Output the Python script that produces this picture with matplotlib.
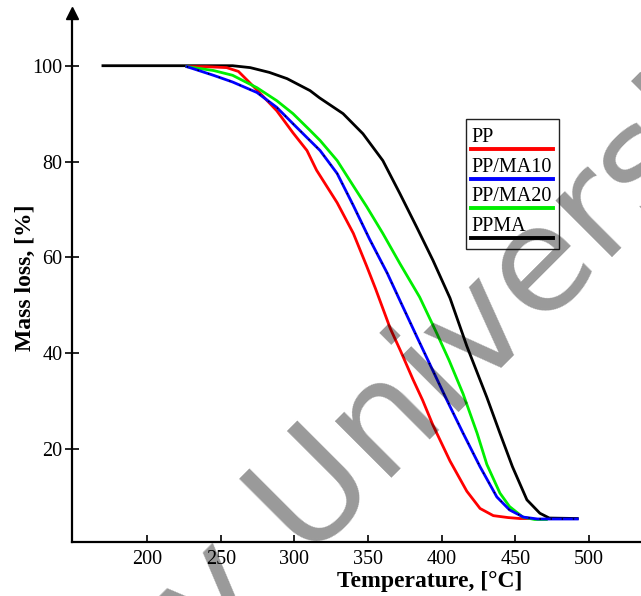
import numpy as np
import matplotlib.pyplot as plt
from matplotlib.patches import Rectangle
from matplotlib.lines import Line2D

# TGA curves
pp_t = [227, 240, 254, 262, 275, 288, 299, 308.5, 315, 322, 329, 340, 349, 355, 365, 372, 380.5, 387, 394, 405.6, 417, 426, 435, 445, 453, 460]
pp_m = [99.8, 99.8, 99.6, 98.8, 94.8, 90.6, 86.0, 82.3, 78.2, 74.8, 71.4, 65, 58.2, 53.5, 45.2, 40.5, 34.5, 30.2, 25.0, 17.5, 11.2, 7.6, 6.1, 5.7, 5.5, 5.5]

ma10_t = [227, 245, 258, 274.6, 288, 299, 308.5, 317.4, 329, 340, 351, 363, 371.6, 383, 393, 403.5, 414.5, 426, 437.4, 446, 455.4, 465, 492]
ma10_m = [99.8, 98.0, 96.6, 94.4, 91.3, 87.9, 85, 82.3, 77.5, 70.8, 63.8, 56.7, 51, 43.5, 37, 30.2, 23.3, 16.3, 10, 7.3, 5.8, 5.4, 5.4]

ma20_t = [227, 245, 258, 274.6, 288, 299, 310.6, 317.4, 329, 340, 349, 360, 371.6, 385, 396.7, 405, 414.5, 424, 430.6, 439.5, 446, 455, 463, 471]
ma20_m = [99.8, 99, 98, 95.4, 92.7, 90, 86.5, 84.4, 80.2, 74.9, 70.6, 65, 58.7, 51.7, 44.1, 38.5, 31.5, 23.3, 16.8, 10.8, 8, 5.8, 5.3, 5.3]

ppma_t = [170, 258, 270, 283, 295, 310.6, 317, 333, 346.5, 360, 371.6, 383, 394, 405.6, 417, 430.6, 439.5, 448, 457.8, 466.6, 473, 492]
ppma_m = [100, 100, 99.6, 98.6, 97.3, 94.8, 93.3, 90, 85.8, 80.2, 73.3, 66.3, 59.4, 51.5, 41.5, 30.8, 23.3, 16.3, 9.4, 6.6, 5.6, 5.5]

names = ['PP', 'PP/MA10', 'PP/MA20', 'PPMA']
colors = ['#ff0000', '#0000ff', '#00ee00', '#000000']
xticks = [200, 250, 300, 350, 400, 450, 500]
yticks = [20, 40, 60, 80, 100]

W, H = 641, 596
fig = plt.figure(figsize=(W / 100, H / 100), dpi=100)
# axes box in pixels: left 72, bottom 542, top 13, right runs off the figure
ax = fig.add_axes([72 / W, 1 - 542 / H, (648 - 72) / W, (542 - 13) / H])

serif = 'Liberation Serif'
ax.plot(ppma_t, ppma_m, color=colors[3], lw=2.0, zorder=2)
ax.plot(pp_t, pp_m, color=colors[0], lw=2.0, zorder=3)
ax.plot(ma20_t, ma20_m, color=colors[2], lw=2.0, zorder=3)
ax.plot(ma10_t, ma10_m, color=colors[1], lw=2.0, zorder=4)
ax.plot(ma10_t, ma10_m, color='black', lw=1.0, ls=(0, (1, 7)), zorder=5)

ax.set_xlim(149, 540)
ax.set_ylim(0.6, 111)
ax.spines['top'].set_visible(False)
ax.spines['right'].set_visible(False)
ax.spines['left'].set_linewidth(1.6)
ax.spines['bottom'].set_linewidth(1.6)
ax.set_xticks(xticks)
ax.set_yticks(yticks)
ax.tick_params(axis='x', direction='in', length=5, width=1.2, labelsize=14.5, pad=6)
ax.tick_params(axis='y', direction='inout', length=10, width=1.2, labelsize=14.5, pad=2)
for lab in ax.get_xticklabels() + ax.get_yticklabels():
    lab.set_fontfamily(serif)

# arrow heads on the axes
ax.plot([0], [1], marker='^', color='black', markersize=9, transform=ax.transAxes, clip_on=False)
ax.plot([1], [0], marker='>', color='black', markersize=9, transform=ax.transAxes, clip_on=False)

fig.text(430 / W, 1 - 581 / H, 'Temperature, [°C]', fontsize=17, fontweight='bold',
         family=serif, ha='center', va='center')
fig.text(25 / W, 1 - 278 / H, 'Mass loss, [%]', fontsize=17, fontweight='bold',
         family=serif, ha='center', va='center', rotation=90)

# legend: text above a line sample, drawn in figure pixels
fig.patches.append(Rectangle((466 / W, 1 - 249 / H), (559 - 466) / W, (249 - 119) / H,
                             transform=fig.transFigure, facecolor='white',
                             edgecolor='#222222', lw=1.0, zorder=5))
base = [142, 172, 201, 231]
liney = [149, 179, 208, 238]
for name, c, b, ly in zip(names, colors, base, liney):
    fig.text(471 / W, 1 - b / H, name, fontsize=14.5, family=serif, ha='left',
             va='baseline', zorder=6)
    fig.lines.append(Line2D([471 / W, 553 / W], [1 - ly / H, 1 - ly / H], color=c,
                            lw=2.8, transform=fig.transFigure, zorder=6))

# watermark
fig.text(212 / W, 1 - 658 / H, 'y University', fontsize=106, family='DejaVu Sans',
         color='black', alpha=0.4, rotation=45, rotation_mode='anchor',
         ha='left', va='baseline', zorder=10)

fig.savefig('out.png', dpi=100)
